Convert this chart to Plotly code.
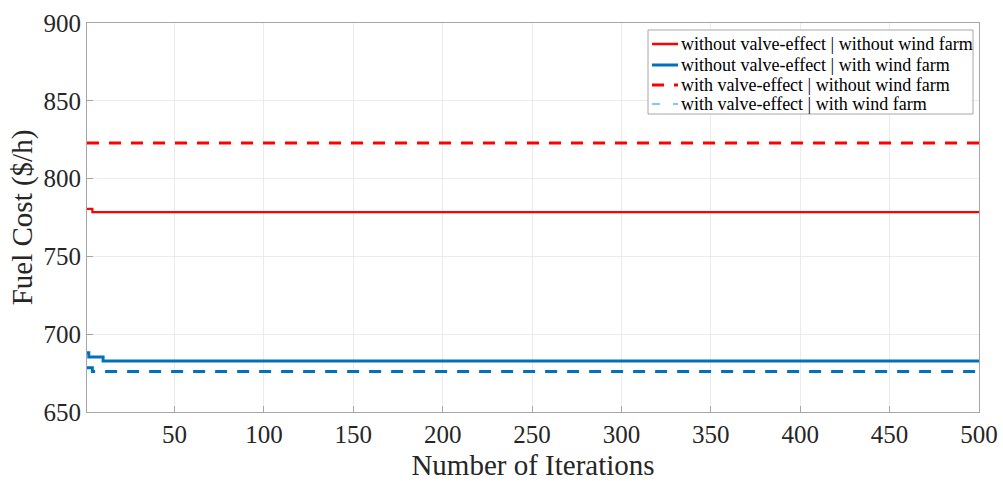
import plotly.graph_objects as go

# Step change points (iteration, fuel cost); lines are held constant between points
it_r_solid = [1, 4, 500]
fc_r_solid = [780.5, 778.4, 778.4]
it_b_solid = [1, 2, 10, 500]
fc_b_solid = [688.0, 685.3, 682.8, 682.8]
it_r_dash = [1, 500]
fc_r_dash = [822.8, 822.8]
it_b_dash = [1, 4, 500]
fc_b_dash = [678.5, 676.0, 676.0]

x_ticks = [50, 100, 150, 200, 250, 300, 350, 400, 450, 500]
y_ticks = [650, 700, 750, 800, 850, 900]

names = ["without valve-effect | without wind farm",
         "without valve-effect | with wind farm",
         "with valve-effect | without wind farm",
         "with valve-effect | with wind farm"]

red = "#FF0000"
blue = "#0072BD"
font = "Liberation Serif, Times New Roman, serif"

W, H = 1003, 481
L, R, T, B = 87, 24, 23, 69
PW, PH = W - L - R, H - T - B

def px(x):
    return (x - L) / PW

def py(y):
    return 1 - (y - T) / PH

styles = [dict(color=red, width=2.2),
          dict(color=blue, width=3),
          dict(color=red, width=3, dash="12px,10px"),
          dict(color=blue, width=3, dash="12px,10px")]
series = [(it_r_solid, fc_r_solid), (it_b_solid, fc_b_solid),
          (it_r_dash, fc_r_dash), (it_b_dash, fc_b_dash)]

fig = go.Figure()
for (xs, ys), st, nm in zip(series, styles, names):
    fig.add_trace(go.Scatter(x=xs, y=ys, mode="lines", line_shape="hv", line=st, name=nm,
                             showlegend=False))

# legend drawn as a boxed key (matches the reference's compact row spacing)
leg_styles = [dict(color=red, width=2.5),
              dict(color=blue, width=3),
              dict(color=red, width=3, dash="12px,10px"),
              dict(color="#4DBEEE", width=1.5, dash="8px,13px")]
row_y = [44, 65, 85, 104]
shapes = [dict(type="rect", xref="paper", yref="paper",
               x0=px(648), x1=px(973), y0=py(30), y1=py(114),
               line=dict(color="#A6A6A6", width=1), fillcolor="white", layer="above")]
annotations = []
for st, nm, ry in zip(leg_styles, names, row_y):
    shapes.append(dict(type="line", xref="paper", yref="paper",
                       x0=px(652), x1=px(678), y0=py(ry), y1=py(ry), line=st, layer="above"))
    annotations.append(dict(text=nm, xref="paper", yref="paper", x=px(679), y=py(ry),
                            xanchor="left", yanchor="middle", showarrow=False,
                            font=dict(family=font, size=18, color="black")))

axis_common = dict(showgrid=True, gridcolor="#EBEBEB", gridwidth=1,
                   showline=True, linecolor="#A6A6A6", linewidth=1, mirror=True,
                   ticks="inside", ticklen=6, tickcolor="#A6A6A6",
                   tickfont=dict(family=font, size=25, color="#262626"),
                   ticklabeloverflow="allow",
                   zeroline=False, automargin=False)

fig.update_layout(
    width=W, height=H,
    margin=dict(l=L, r=R, t=T, b=B),
    plot_bgcolor="white", paper_bgcolor="white",
    xaxis=dict(range=[1, 500], tickvals=x_ticks,
               title=dict(text="Number of Iterations", font=dict(family=font, size=29, color="#262626"),
                          standoff=14),
               **axis_common),
    yaxis=dict(range=[650, 900], tickvals=y_ticks,
               title=dict(text="Fuel Cost ($/h)", font=dict(family=font, size=29, color="#262626"),
                          standoff=2),
               **axis_common),
    shapes=shapes, annotations=annotations,
    showlegend=False,
)

# remove the browser's default 8px body margin so the figure sits at the page origin
fig.write_html("out.html", config={"displayModeBar": False},
               post_script="document.body.style.margin='0';")
